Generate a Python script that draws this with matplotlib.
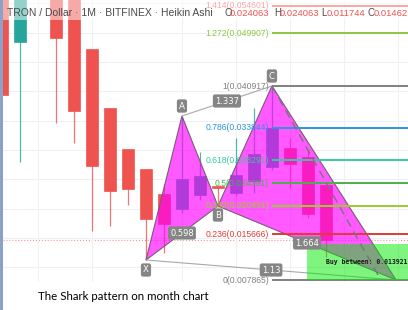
import matplotlib
matplotlib.use("Agg")
import matplotlib.pyplot as plt
from matplotlib.patches import Rectangle, Polygon

# monthly Heikin Ashi candles (TRX/USD), index = month
opens = [0.0620, 0.048413, 0.0750, 0.0680, 0.0660, 0.047220, 0.037169, 0.030184, 0.026777, 0.022518,
         0.019963, 0.022348, 0.023881, 0.022689, 0.024733, 0.027118, 0.030355, 0.028822, 0.024063]
closes = [0.039384, 0.0600, 0.0620, 0.049094, 0.036658, 0.027289, 0.023029, 0.023370, 0.018259, 0.017407,
          0.025074, 0.025585, 0.023540, 0.025755, 0.029333, 0.033762, 0.027629, 0.019111, 0.014620]
highs = [0.0640, 0.0660, 0.0780, 0.0700, 0.0680, 0.047220, 0.037169, 0.030184, 0.026777, 0.024222,
         0.035806, 0.029673, 0.023881, 0.032059, 0.037169, 0.040917, 0.032000, 0.030014, 0.024063]
lows = [0.039384, 0.027970, 0.0580, 0.034614, 0.031207, 0.016215, 0.017067, 0.020644, 0.011275, 0.012468,
        0.019282, 0.021500, 0.020474, 0.022178, 0.022689, 0.026607, 0.023600, 0.018430, 0.011744]

# shark pattern points
pat_names = ['X', 'A', 'B', 'C']
pat_x = [8, 10, 12, 15, 21.9]
pat_y = [0.011275, 0.035806, 0.020474, 0.040917, 0.007865]
ratios = ['0.598', '1.337', '1.664', '1.13']

# fib retracement C -> D
fib_ratios = ['1.414', '1.272', '1', '0.786', '0.618', '0.5', '0.382', '0.236', '0']
fib_prices = [0.054601, 0.049907, 0.040917, 0.033844, 0.028291, 0.024391, 0.020491, 0.015666, 0.007865]
fib_colors = ['#ef5350', '#8fc63f', '#808080', '#2a96dc', '#33cc99', '#4caf50', '#9ccc2a', '#e53935', '#808080']

buy_low, buy_high = 0.007865, 0.013921
last_close = 0.01462

red = '#ef5350'
teal = '#26a69a'
sans = 'Liberation Sans'

fig = plt.figure(figsize=(4.08, 3.10), dpi=100)
ax = fig.add_axes([3/408, 1 - 282/310, 405/408, 282/310])
ax.set_xlim(0.056, 22.56)
ax.set_ylim(0.007527, 0.055568)

ax.set_xticks([2, 5, 10, 13, 16, 19, 22])
ax.set_yticks([0.010, 0.015, 0.020, 0.025, 0.030, 0.035, 0.040, 0.045, 0.050, 0.055])
ax.grid(color='#edf1f6', lw=0.8)
ax.tick_params(length=0, labelbottom=False, labelleft=False)
for s in ax.spines.values():
    s.set_visible(False)

# candles
for i in range(len(opens)):
    c = teal if closes[i] >= opens[i] else red
    ax.vlines(i, lows[i], highs[i], color=c, lw=0.9, alpha=0.8, zorder=2)
    ax.bar(i, abs(closes[i] - opens[i]), bottom=min(opens[i], closes[i]), width=0.66,
           color=c, edgecolor=c, lw=0.5, zorder=3)

ax.axhline(last_close, color=red, lw=0.8, ls=':', alpha=0.6, zorder=1)

# fib levels
for r, p, col in zip(fib_ratios, fib_prices, fib_colors):
    ax.plot([pat_x[3], 23], [p, p], color=col, lw=1.4, zorder=5, solid_capstyle='butt')
    ax.annotate('%s(%.6f)' % (r, p), (pat_x[3], p), xytext=(-3, 0), textcoords='offset pixels',
                ha='right', va='center', fontsize=6.2, color=col, family=sans, zorder=6,
                annotation_clip=False)

# pattern triangles
X, A, B, C, D = list(zip(pat_x, pat_y))
for tri in [(X, A, B), (B, C, D)]:
    ax.add_patch(Polygon(tri, closed=True, facecolor='#ff00ff', alpha=0.65, edgecolor='none', zorder=4))
    ax.add_patch(Polygon(tri, closed=True, fill=False, edgecolor='#7a5a7a', lw=0.8, zorder=4.5))

ax.plot([A[0], C[0]], [A[1], C[1]], color='#a8a8a8', lw=0.8, zorder=4.5)
ax.plot([X[0], D[0]], [X[1], D[1]], color='#a8a8a8', lw=0.8, zorder=4.5)
ax.plot([C[0], 21.05], [C[1], buy_low], color='#777777', lw=1.0, ls=(0, (6, 4)), zorder=7)

# buy zone
ax.add_patch(Rectangle((16.95, buy_low), 7, buy_high - buy_low, facecolor='#00eb00', alpha=0.5,
                       edgecolor='none', zorder=6))
ax.text(18.0, (buy_low + buy_high) / 2 + 0.0001, 'Buy between: 0.013921', fontsize=4.7,
        family='DejaVu Sans Mono', weight='bold', color='#1a1a1a', va='center', zorder=8)

# point + ratio labels
box = dict(boxstyle='round,pad=0.25', fc='#858585', ec='none')
offs = [-10, 10, -9, 10]
for n, (px, py), o in zip(pat_names, [X, A, B, C], offs):
    ax.annotate(n, (px, py), xytext=(0, o), textcoords='offset pixels', ha='center', va='center',
                fontsize=6.2, color='white', bbox=box, zorder=9)
pairs = [(X, B), (A, C), (B, D), (X, D)]
for r, (p1, p2) in zip(ratios, pairs):
    ax.text((p1[0] + p2[0]) / 2, (p1[1] + p2[1]) / 2, r, ha='center', va='center', fontsize=6,
            color='white', bbox=box, zorder=9)

# header with faded band
fig.add_artist(Rectangle((0, 1 - 20/310), 1, 20/310, transform=fig.transFigure, fc='white',
                         alpha=0.5, ec='none', zorder=5))
hy = 1 - 13/310
fig.text(7/408, hy, 'TRON / Dollar \u00b7 1M \u00b7 BITFINEX \u00b7 Heikin Ashi', fontsize=7.5,
         color='#4a4a4a', family=sans, va='center', zorder=6)
for letter, val, x in [('O', '0.024063', 224), ('H', '0.024063', 274), ('L', '0.011744', 321),
                       ('C', '0.01462', 368)]:
    fig.text(x/408, hy, letter, fontsize=7, color='#4a4a4a', family=sans, va='center', zorder=6)
    fig.text((x + 6)/408, hy, val, fontsize=6.8, color=red, family=sans, va='center', zorder=6)

# window edge on the left
fig.add_artist(Rectangle((0, 0), 3/408, 1, transform=fig.transFigure, fc='#8aa2c8', ec='none', zorder=6))

fig.text(38/408, 1 - 297/310, 'The Shark pattern on month chart', fontsize=8.3, family='Lato',
         color='black', va='center')

fig.savefig('out.png', dpi=100)
